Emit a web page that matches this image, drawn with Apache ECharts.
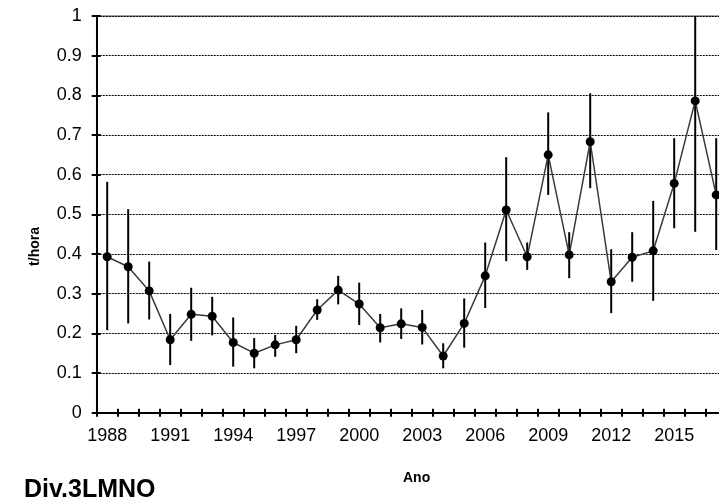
<!DOCTYPE html>
<html>
<head>
<meta charset="utf-8">
<script src="https://cdn.jsdelivr.net/npm/echarts@6/dist/echarts.min.js"></script>
<style>html,body{margin:0;padding:0;background:#fff}#c{width:719px;height:500px}</style>
</head>
<body>
<div id="c"></div>
<script>
var years = ['1988','1989','1990','1991','1992','1993','1994','1995','1996','1997','1998','1999','2000','2001','2002','2003','2004','2005','2006','2007','2008','2009','2010','2011','2012','2013','2014','2015','2016','2017'];
var meanValues = [0.393,0.368,0.307,0.184,0.248,0.243,0.177,0.150,0.171,0.184,0.259,0.309,0.274,0.214,0.224,0.215,0.143,0.225,0.345,0.511,0.393,0.650,0.398,0.683,0.330,0.392,0.408,0.578,0.786,0.549];
var upperValues = [0.582,0.513,0.381,0.249,0.315,0.292,0.240,0.188,0.196,0.219,0.286,0.345,0.328,0.249,0.263,0.259,0.175,0.288,0.429,0.644,0.429,0.757,0.455,0.805,0.412,0.455,0.534,0.692,1.0,0.692];
var lowerValues = [0.208,0.225,0.235,0.120,0.181,0.195,0.116,0.112,0.141,0.150,0.234,0.273,0.221,0.177,0.186,0.172,0.112,0.164,0.264,0.382,0.360,0.549,0.339,0.566,0.251,0.330,0.282,0.465,0.456,0.410];
var yTicks = [0,0.1,0.2,0.3,0.4,0.5,0.6,0.7,0.8,0.9,1];

var FONT = '"Liberation Sans", Arial, sans-serif';
var chart = echarts.init(document.getElementById('c'), null, {renderer:'canvas'});
var errData = years.map(function(y,i){ return [i, lowerValues[i], upperValues[i]]; });

chart.setOption({
  animation:false,
  textStyle:{fontFamily:FONT},
  title:{text:'Div.3LMNO', left:19, top:473, textStyle:{fontSize:25, fontWeight:'bold', color:'#000', fontFamily:FONT}},
  graphic:[
    {type:'text', left:403, top:471, style:{text:'Ano', font:'bold 14px '+FONT, fill:'#000'}},
    {type:'text', left:28, top:227, rotation:Math.PI/2, style:{text:'t/hora', font:'bold 14px '+FONT, fill:'#000'}}
  ],
  grid:{left:96.7, top:16, width:630, height:396.7, show:true, borderColor:'#888', borderWidth:1.5, containLabel:false, outerBoundsMode:'none'},
  xAxis:[{
    type:'category', data:years, boundaryGap:true,
    axisLine:{lineStyle:{color:'#000', width:2}},
    axisTick:{show:true, interval:0, length:4, lineStyle:{color:'#000', width:2}},
    axisLabel:{interval:2, color:'#000', fontSize:18, margin:14, fontFamily:FONT},
    splitLine:{show:false}
  },{
    type:'category', data:years, boundaryGap:true, position:'bottom',
    axisLine:{show:false},
    axisTick:{show:true, inside:true, interval:0, length:4, lineStyle:{color:'#000', width:2}},
    axisLabel:{show:false}, splitLine:{show:false}
  }],
  yAxis:[{
    type:'value', min:0, max:1, interval:0.1,
    axisLine:{show:true, lineStyle:{color:'#000', width:2}},
    axisTick:{show:true, length:5, lineStyle:{color:'#000', width:2}},
    axisLabel:{color:'#000', fontSize:18, margin:15, fontFamily:FONT},
    splitLine:{show:true, lineStyle:{color:'#000', width:1.2, type:[2,1]}}
  },{
    type:'value', min:0, max:1, interval:0.1, position:'left',
    axisLine:{show:false},
    axisTick:{show:true, inside:true, length:4, lineStyle:{color:'#000', width:2}},
    axisLabel:{show:false}, splitLine:{show:false}
  }],
  series:[{
    type:'custom', xAxisIndex:0, yAxisIndex:0, data:errData, z:3,
    renderItem:function(params, api){
      var p1 = api.coord([api.value(0), api.value(1)]);
      var p2 = api.coord([api.value(0), api.value(2)]);
      return {type:'line', shape:{x1:p1[0], y1:p1[1], x2:p2[0], y2:p2[1]}, style:{stroke:'#000', lineWidth:2}};
    }
  },{
    type:'line', xAxisIndex:0, yAxisIndex:0, data:meanValues, z:4,
    symbol:'circle', symbolSize:9, showSymbol:true,
    lineStyle:{color:'#3a3a3a', width:1.5},
    itemStyle:{color:'#000', borderWidth:0}
  }]
});
</script>
</body>
</html>
